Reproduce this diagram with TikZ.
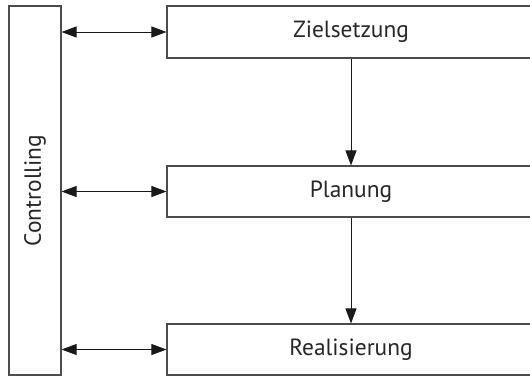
\documentclass[tikz,border=0pt]{standalone}
\usepackage{fontspec}
\setmainfont{PT Sans}
\usetikzlibrary{arrows.meta}

\tikzset{
  stufe/.style={draw=black!70, line width=1.1bp, minimum width=368bp, inner sep=0pt, font=\fontsize{23.5}{26}\selectfont, text=black!85},
  pfeil/.style={line width=0.9bp, draw=black!90, -{Triangle[length=15bp,width=11bp]}},
  doppelpfeil/.style={pfeil, {Triangle[length=15bp,width=11bp]}-{Triangle[length=15bp,width=11bp]}}
}

\begin{document}
\begin{tikzpicture}[x=1bp, y=-1bp]
	%%%%% START %%%%%
	\clip (0,0) rectangle (530,376);
	\useasboundingbox (0,0) rectangle (530,376);

	% controlling box on the left
	\node[draw=black!70, line width=1.1bp, minimum width=52bp, minimum height=369bp, inner sep=0pt] (ctrl) at (35, 190.5) {};
	\node[rotate=90, font=\fontsize{23.5}{26}\selectfont, text=black!85] (ctrltext) at (ctrl.center) {Controlling};

	% the three stages
	\node[stufe, minimum height=52bp] (ziel) at (351, 32) {Zielsetzung};
	\node[stufe, minimum height=51bp] (plan) at (351, 191.5) {Planung};
	\node[stufe, minimum height=51bp] (real) at (351, 349.5) {Realisierung};

	% flow down
	\draw[pfeil] (ziel.south) -- (plan.north);
	\draw[pfeil] (plan.south) -- (real.north);

	% feedback to controlling
	\draw[doppelpfeil] (ctrl.east |- ziel.west) -- (ziel.west);
	\draw[doppelpfeil] (ctrl.east |- plan.west) -- (plan.west);
	\draw[doppelpfeil] (ctrl.east |- real.west) -- (real.west);
	%%%%% END %%%%%
\end{tikzpicture}
\end{document}
